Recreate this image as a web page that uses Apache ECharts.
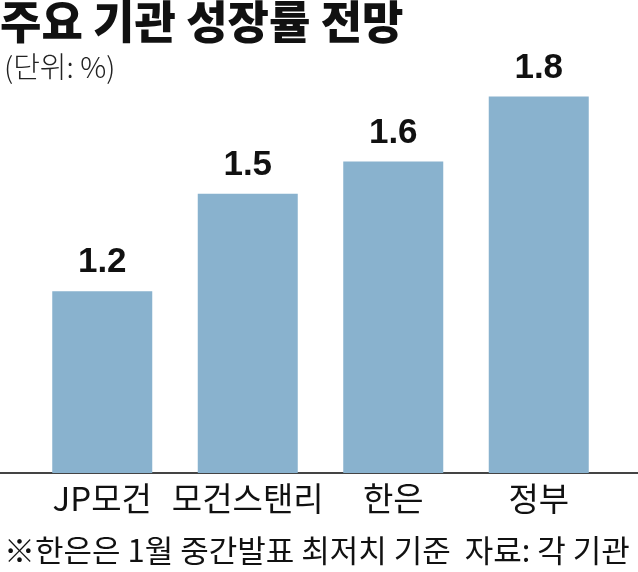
<!DOCTYPE html>
<html><head><meta charset="utf-8">
<script src="https://cdn.jsdelivr.net/npm/echarts@6/dist/echarts.min.js"></script>
<style>html,body{margin:0;padding:0;background:#fff}#c{width:638px;height:572px}</style>
</head><body><div id="c"></div>
<script>
const categories = ['JP모건', '모건스탠리', '한은', '정부'];
const values = [1.2, 1.5, 1.6, 1.8];
const titleText = '주요 기관 성장률 전망';
const unitText = '(단위: %)';
const noteText = '※한은은 1월 중간발표 최저치 기준  자료: 각 기관';

const KR = '"Noto Sans CJK KR", "Noto Sans", sans-serif';
const chart = echarts.init(document.getElementById('c'), null, {renderer: 'canvas'});
chart.setOption({
  animation: false,
  backgroundColor: '#ffffff',
  grid: {left: 29.5, right: 26.5, top: 64, bottom: 99, containLabel: false},
  xAxis: {
    type: 'category', data: categories,
    axisLine: {show: false}, axisTick: {show: false},
    axisLabel: {interval: 0, hideOverlap: false, color: '#111', fontSize: 33, fontFamily: KR, margin: 9}
  },
  yAxis: {type: 'value', min: 0.64, max: 1.9, show: false, splitLine: {show: false}},
  series: [{
    type: 'bar', data: values, barWidth: 100,
    itemStyle: {color: '#89b2ce'},
    label: {show: true, position: 'top', distance: 11, color: '#111', fontSize: 35,
      fontFamily: '"Liberation Sans", Arial, sans-serif', fontWeight: 'bold',
      formatter: p => p.value.toFixed(1)}
  }],
  graphic: [
    {type: 'text', left: 0, top: -1, style: {text: titleText, fontSize: 45, fontWeight: 900, fontFamily: KR, fill: '#111'}},
    {type: 'text', left: 4, top: 52, style: {text: unitText, fontSize: 29, fontWeight: 300, fontFamily: KR, fill: '#222'}},
    {type: 'line', shape: {x1: 0, y1: 473, x2: 638, y2: 473}, style: {stroke: '#444', lineWidth: 2}},
    {type: 'text', left: 4, top: 535, style: {text: noteText, fontSize: 31, fontFamily: KR, fill: '#111'}}
  ]
});
</script></body></html>
